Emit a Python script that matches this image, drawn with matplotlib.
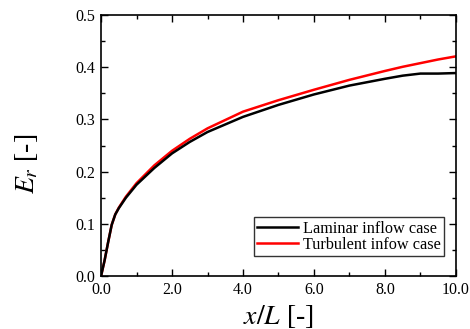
import matplotlib
matplotlib.use('Agg')
import matplotlib.pyplot as plt
from matplotlib.ticker import MultipleLocator, FormatStrFormatter

# values
x_over_L = [0, 0.1, 0.2, 0.3, 0.4, 0.5, 0.7, 1.0, 1.5, 2.0, 2.5, 3.0, 4.0,
            5.0, 6.0, 7.0, 8.0, 8.5, 9.0, 9.5, 10.0]
er_laminar = [0, 0.03, 0.065, 0.098, 0.118, 0.130, 0.150, 0.175, 0.207, 0.235,
              0.257, 0.276, 0.305, 0.328, 0.348, 0.365, 0.378, 0.384, 0.388,
              0.388, 0.389]
er_turbulent = [0, 0.03, 0.065, 0.098, 0.118, 0.131, 0.152, 0.178, 0.212,
                0.240, 0.263, 0.283, 0.315, 0.337, 0.357, 0.376, 0.393, 0.401,
                0.408, 0.415, 0.421]

plt.rcParams['font.family'] = ['Liberation Serif', 'DejaVu Serif']
plt.rcParams['mathtext.fontset'] = 'stix'

fig = plt.figure(figsize=(4.7, 3.29), dpi=100)
ax = fig.add_axes([0.215, 0.161, 0.755, 0.793])

ax.plot(x_over_L, er_laminar, color='black', lw=1.8, label='Laminar inflow case', zorder=3)
ax.plot(x_over_L, er_turbulent, color='red', lw=1.8, label='Turbulent infow case')

ax.set_xlim(0, 10)
ax.set_ylim(0, 0.5)
ax.xaxis.set_major_locator(MultipleLocator(2))
ax.xaxis.set_minor_locator(MultipleLocator(1))
ax.yaxis.set_major_locator(MultipleLocator(0.1))
ax.yaxis.set_minor_locator(MultipleLocator(0.05))
ax.xaxis.set_major_formatter(FormatStrFormatter('%.1f'))
ax.yaxis.set_major_formatter(FormatStrFormatter('%.1f'))
ax.tick_params(which='both', direction='in', top=True, right=True,
               labelsize=11.5, width=1)
ax.tick_params(which='major', length=5)
ax.tick_params(axis='y', which='major', pad=4.5)
ax.tick_params(axis='x', which='major', pad=4)
ax.tick_params(which='minor', length=3)
for s in ax.spines.values():
    s.set_linewidth(1.2)

ax.set_xlabel(r'$x/L$ [-]', fontsize=20, labelpad=4)
ax.set_ylabel(r'$E_r$ [-]', fontsize=20)
ax.yaxis.set_label_coords(-0.172, 0.43)

leg = ax.legend(loc='lower right', fontsize=11.7, frameon=True, fancybox=False,
                edgecolor='black', borderpad=0.2, handlelength=2.5,
                handletextpad=0.3, labelspacing=0.0, borderaxespad=0,
                bbox_to_anchor=(0.966, 0.077))
leg.get_frame().set_linewidth(1.0)

fig.savefig('out.png', dpi=100)
